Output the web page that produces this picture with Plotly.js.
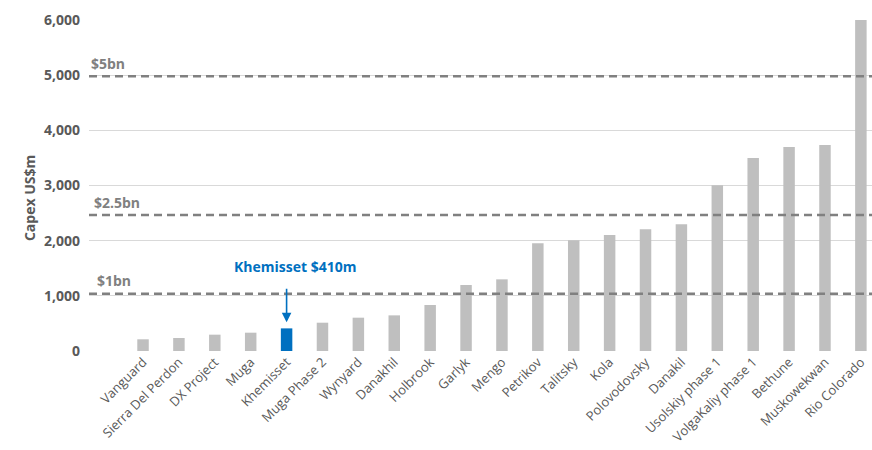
<!DOCTYPE html>
<html>
<head>
<meta charset="utf-8">
<script src="https://cdn.plot.ly/plotly-3.0.1.min.js"></script>
<style>html,body{margin:0;padding:0;background:#fff}#chart{width:872px;height:450px}</style>
</head>
<body>
<div id="chart"></div>
<script>
const categories = ["Vanguard","Sierra Del Perdon","DX Project","Muga","Khemisset","Muga Phase 2","Wynyard","Danakhil","Holbrook","Garlyk","Mengo","Petrikov","Talitsky","Kola","Polovodovsky","Danakil","Usolskiy phase 1","VolgaKaliy phase 1","Bethune","Muskowekwan","Rio Colorado"];
const capex = [212, 236, 296, 332, 410, 513, 604, 646, 834, 1196, 1299, 1952, 2006, 2103, 2205, 2296, 3003, 3498, 3698, 3734, 6000];
const highlight = "Khemisset";
const highlightLabel = "Khemisset $410m";
const thresholds = [1040, 2465, 4980];
const thresholdLabels = ["$1bn", "$2.5bn", "$5bn"];
const yTicks = [0, 1000, 2000, 3000, 4000, 5000, 6000];
const yTickText = ["0", "1,000", "2,000", "3,000", "4,000", "5,000", "6,000"];

const grey = "#bfbfbf", blue = "#0070c0", lineGrey = "#808080", textGrey = "#595959";
const font = "Open Sans, Liberation Sans, sans-serif";

const colors = categories.map(c => c === highlight ? blue : grey);
const hi = categories.indexOf(highlight);

const shapes = thresholds.map(v => ({
  type: "line", xref: "paper", yref: "y", x0: 0, x1: 1, y0: v, y1: v,
  line: {color: lineGrey, width: 2.5, dash: "8px,5px"}, layer: "above"
}));

const xShift = [6, 3, 0];
const annotations = thresholds.map((v, i) => ({
  xref: "paper", yref: "y", x: 0, y: v, xanchor: "left", yanchor: "middle",
  xshift: xShift[i], yshift: 13, showarrow: false, text: "<b>" + thresholdLabels[i] + "</b>",
  font: {family: font, size: 14, color: lineGrey}
}));

annotations.push({
  xref: "x", yref: "y", x: hi + 0.235, y: 1528, showarrow: false,
  text: "<b>" + highlightLabel + "</b>", font: {family: font, size: 14, color: blue}
});
annotations.push({
  xref: "x", yref: "y", x: categories[hi], y: 520, ax: 0, ay: -35, text: "",
  showarrow: true, arrowhead: 2, arrowsize: 1.2, arrowwidth: 1.6, arrowcolor: blue
});
annotations.push({
  xref: "paper", yref: "paper", x: -0.0913, y: 0.462, showarrow: false, textangle: -90,
  text: "<b>Capex US$m</b>", font: {family: font, size: 14, color: textGrey}
});

const data = [{
  type: "bar", x: categories, y: capex, marker: {color: colors}, width: 0.32,
  hoverinfo: "x+y"
}];

const layout = {
  width: 872, height: 450,
  margin: {l: 89, r: 0, t: 20, b: 99},
  paper_bgcolor: "#fff", plot_bgcolor: "#fff",
  showlegend: false,
  xaxis: {
    type: "category", range: [-1.505, 20.31], tickangle: -45,
    tickfont: {family: font, size: 13, color: textGrey},
    showgrid: false, zeroline: false, showline: false, ticks: ""
  },
  yaxis: {
    range: [0, 6000], tickvals: yTicks, ticktext: yTickText,
    tickfont: {family: font, size: 14, color: textGrey, weight: "bold"},
    showgrid: true, gridcolor: "#d9d9d9", gridwidth: 1.2, zeroline: false,
    showline: false, ticks: "", ticklabelstandoff: 8
  },
  shapes: shapes,
  annotations: annotations
};

Plotly.newPlot("chart", data, layout, {staticPlot: true, displayModeBar: false});
</script>
</body>
</html>
